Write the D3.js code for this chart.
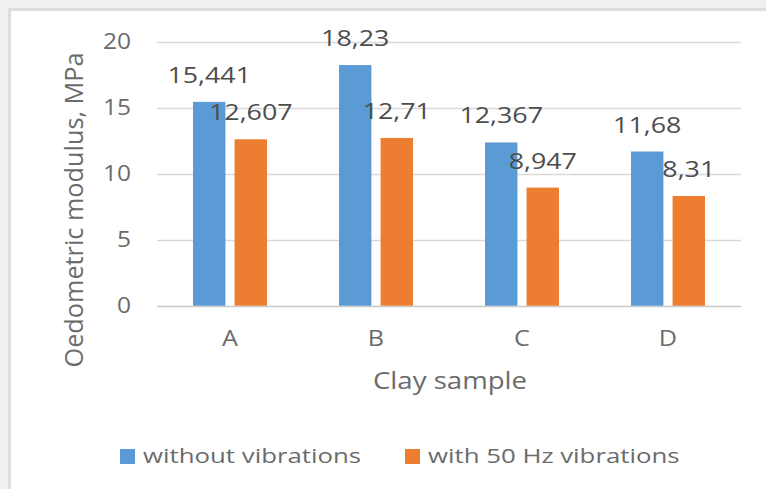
<!DOCTYPE html>
<html>
<head>
<meta charset="utf-8">
<script src="https://cdn.jsdelivr.net/npm/d3@7"></script>
<style>
  html, body { margin: 0; padding: 0; background: #eef0f2; }
  svg { display: block; }
  text { font-family: "Open Sans", sans-serif; }
</style>
</head>
<body>
<div id="chart"></div>
<script>
// chart data
const samples = ["A", "B", "C", "D"];
const seriesNames = ["without vibrations", "with 50 Hz vibrations"];
const withoutVib = [15.441, 18.23, 12.367, 11.68];
const with50Hz = [12.607, 12.71, 8.947, 8.31];
const valueLabels = [["15,441", "18,23", "12,367", "11,68"], ["12,607", "12,71", "8,947", "8,31"]];
const yTicks = [0, 5, 10, 15, 20];
const colors = ["#5b9bd5", "#ed7d31"];

const width = 766, height = 489;
const textGray = "#6b6b6b";

const svg = d3.select("#chart").append("svg")
    .attr("width", width)
    .attr("height", height);

// page background + white card
svg.append("rect").attr("width", width).attr("height", height).attr("fill", "#eef0f2");
svg.append("rect")
    .attr("x", 9.5).attr("y", 9.5)
    .attr("width", width).attr("height", height)
    .attr("fill", "#ffffff")
    .attr("stroke", "#dcdedf")
    .attr("stroke-width", 3);

const plot = {left: 157, right: 741, top: 41.7, bottom: 305.7};

const y = d3.scaleLinear().domain([0, 20]).range([plot.bottom, plot.top]);
const x0 = d3.scaleBand().domain(samples).range([plot.left, plot.right]);
const x1 = d3.scaleBand().domain([0, 1]).range([36, 110]).paddingInner(0.22);

// the picture's text is a bit wider than the font, so stretch it sideways
function wideText(sel, sx) {
  return sel.attr("transform", function () {
    const d = d3.select(this);
    return `translate(${d.attr("data-x")},${d.attr("data-y")}) scale(${sx},1)`;
  });
}

// gridlines
svg.append("g").selectAll("line")
    .data(yTicks)
    .join("line")
    .attr("x1", plot.left).attr("x2", plot.right)
    .attr("y1", d => Math.round(y(d)) + 0.5).attr("y2", d => Math.round(y(d)) + 0.5)
    .attr("stroke", d => d === 0 ? "#c9c9c9" : "#d9d9d9")
    .attr("stroke-width", 1.5);

// y tick labels
svg.append("g").selectAll("text")
    .data(yTicks)
    .join("text")
    .attr("data-x", 131)
    .attr("data-y", d => y(d))
    .attr("dy", "0.36em")
    .attr("text-anchor", "end")
    .attr("font-size", 21)
    .attr("fill", textGray)
    .text(d => d)
    .call(wideText, 1.17);

// bars
const series = [withoutVib, with50Hz];
series.forEach((vals, s) => {
  svg.append("g").selectAll("rect")
      .data(samples)
      .join("rect")
      .attr("x", (d, i) => x0(d) + x1(s))
      .attr("y", (d, i) => y(vals[i]))
      .attr("width", x1.bandwidth())
      .attr("height", (d, i) => y(0) - y(vals[i]))
      .attr("fill", colors[s]);
});

// data labels
series.forEach((vals, s) => {
  svg.append("g").selectAll("text")
      .data(samples)
      .join("text")
      .attr("data-x", (d, i) => x0(d) + x1(s) + x1.bandwidth() / 2)
      .attr("data-y", (d, i) => y(vals[i]) - 19)
      .attr("text-anchor", "middle")
      .attr("font-size", 22)
      .attr("fill", "#4d4d4d")
      .text((d, i) => valueLabels[s][i])
      .call(wideText, 1.22);
});

// x category labels
svg.append("g").selectAll("text")
    .data(samples)
    .join("text")
    .attr("data-x", d => x0(d) + x0.bandwidth() / 2)
    .attr("data-y", 346)
    .attr("text-anchor", "middle")
    .attr("font-size", 21)
    .attr("fill", textGray)
    .text(d => d)
    .call(wideText, 1.2);

// axis titles
svg.append("text")
    .attr("transform", "translate(74,210) scale(1.2,1) rotate(-90)")
    .attr("dy", "0.36em")
    .attr("text-anchor", "middle")
    .attr("font-size", 21)
    .attr("textLength", 315)
    .attr("lengthAdjust", "spacingAndGlyphs")
    .attr("fill", textGray)
    .text("Oedometric modulus, MPa");

svg.append("text")
    .attr("data-x", 450)
    .attr("data-y", 389)
    .attr("text-anchor", "middle")
    .attr("font-size", 23)
    .attr("fill", textGray)
    .text("Clay sample")
    .call(wideText, 1.2);

// legend
const legendX = [120, 405];
const legend = svg.append("g").selectAll("g")
    .data(seriesNames)
    .join("g")
    .attr("transform", (d, i) => `translate(${legendX[i]},449)`);
legend.append("rect")
    .attr("width", 15).attr("height", 15)
    .attr("fill", (d, i) => colors[i]);
legend.append("text")
    .attr("data-x", 23)
    .attr("data-y", 14)
    .attr("font-size", 20)
    .attr("fill", textGray)
    .text(d => d)
    .call(wideText, 1.29);
</script>
</body>
</html>
